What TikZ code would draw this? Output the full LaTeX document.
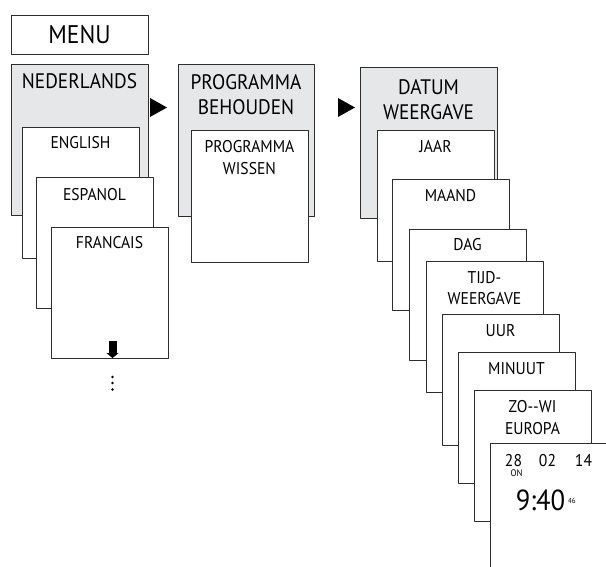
\documentclass[tikz,border=0pt]{standalone}
\usepackage{fontspec}
\setmainfont{PT Sans}[FakeStretch=0.92]
\usetikzlibrary{arrows.meta}
\definecolor{panel}{RGB}{230,231,232}
\definecolor{edge}{RGB}{45,45,45}

\begin{document}
\begin{tikzpicture}[x=1pt,y=-1pt,line cap=round,line join=round,
  card/.style={draw=edge,line width=0.8pt,fill=white,anchor=north west,
    minimum width=117pt,minimum height=131pt,inner sep=0pt,outer sep=0pt},
  panelcard/.style={card,fill=panel,minimum width=137pt,minimum height=151pt},
  bigtxt/.style={anchor=base,align=center,inner sep=0pt,font=\fontsize{21}{25}\selectfont},
  smalltxt/.style={anchor=base,align=center,inner sep=0pt,font=\fontsize{17}{21.5}\selectfont}]

\clip (0,0) rectangle (606,567);

%% menu
\node [card,minimum width=137pt,minimum height=39pt,font=\fontsize{25.5}{30}\selectfont] (menu) at (11,15) {MENU};

%% languages
\node [panelcard] (ned) at (11,64) {};
\node [bigtxt] (ned-t) at ([yshift=-25pt]ned.north) {NEDERLANDS};
\node [card] (eng) at (22,127) {};
\node [smalltxt] (eng-t) at ([yshift=-22pt]eng.north) {ENGLISH};
\node [card] (esp) at (36,177) {};
\node [smalltxt] (esp-t) at ([yshift=-23.5pt]esp.north) {ESPANOL};
\node [card] (fra) at (51,227) {};
\node [smalltxt] (fra-t) at ([yshift=-22pt]fra.north) {FRANCAIS};
\coordinate (more) at ([xshift=3pt,yshift=17pt]fra.south);
\draw [line width=8pt,line cap=butt,-{Triangle[length=5pt,width=12pt]}] (more) -- ([xshift=3pt]fra.south);
\fill ([xshift=3pt,yshift=-19pt]fra.south) circle (1.4);
\fill ([xshift=3pt,yshift=-25pt]fra.south) circle (1.4);
\fill ([xshift=3pt,yshift=-31.5pt]fra.south) circle (1.4);

%% programma (base = last line)
\node [panelcard,minimum width=136pt,minimum height=152pt] (beh) at (178,64) {};
\node [bigtxt] (beh-t) at ([yshift=-50.5pt]beh.north) {PROGRAMMA\\BEHOUDEN};
\node [card,minimum height=132pt] (wis) at (191,130) {};
\node [smalltxt] (wis-t) at ([yshift=-44.5pt]wis.north) {PROGRAMMA\\WISSEN};

%% datum en tijd
\node [panelcard] (dat) at (360,67) {};
\node [bigtxt] (dat-t) at ([yshift=-53pt]dat.north) {DATUM\\WEERGAVE};
\node [card] (jaar) at (377,130) {};
\node [smalltxt] (jaar-t) at ([yshift=-22.5pt]jaar.north) {JAAR};
\node [card] (maand) at (392,179) {};
\node [smalltxt] (maand-t) at ([yshift=-22.5pt]maand.north) {MAAND};
\node [card] (dag) at (409,229) {};
\node [smalltxt] (dag-t) at ([yshift=-22pt]dag.north) {DAG};
\node [card] (tijd) at (426,261) {};
\node [smalltxt] (tijd-t) at ([yshift=-43.8pt]tijd.north) {TIJD-\\WEERGAVE};
\node [card] (uur) at (442,314) {};
\node [smalltxt] (uur-t) at ([yshift=-22.5pt]uur.north) {UUR};
\node [card] (min) at (458,352) {};
\node [smalltxt] (min-t) at ([yshift=-22.3pt]min.north) {MINUUT};
\node [card] (zomer) at (474,390) {};
\node [smalltxt] (zomer-t) at ([yshift=-44pt]zomer.north) {ZO-{}-WI\\EUROPA};
\node [card] (disp) at (490,443) {};
\node [smalltxt] (dd) at ([xshift=23.5pt,yshift=-23.7pt]disp.north west) {28};
\node [smalltxt] (mm) at ([xshift=57.5pt,yshift=-23.7pt]disp.north west) {02};
\node [smalltxt] (yy) at ([xshift=93.5pt,yshift=-23.7pt]disp.north west) {14};
\node [anchor=base,inner sep=0pt,font=\fontsize{9.5}{10}\selectfont] (on) at ([xshift=26.5pt,yshift=-33pt]disp.north west) {ON};
\node [anchor=base,inner sep=0pt,font=\fontsize{29}{32}\selectfont] (clock) at ([xshift=50.5pt,yshift=-67pt]disp.north west) {9:40};
\node [anchor=base west,inner sep=0pt,font=\fontsize{7.5}{8}\selectfont] (secs) at ([xshift=2.5pt,yshift=7pt]clock.base east) {46};

%% pijlen
\fill ([xshift=2pt,yshift=-34pt]ned.north east) -- ++(17,9.5) -- ++(-17,9.5) -- cycle;
\fill ([xshift=24pt,yshift=-34pt]beh.north east) -- ++(17,9.5) -- ++(-17,9.5) -- cycle;
\end{tikzpicture}
\end{document}
